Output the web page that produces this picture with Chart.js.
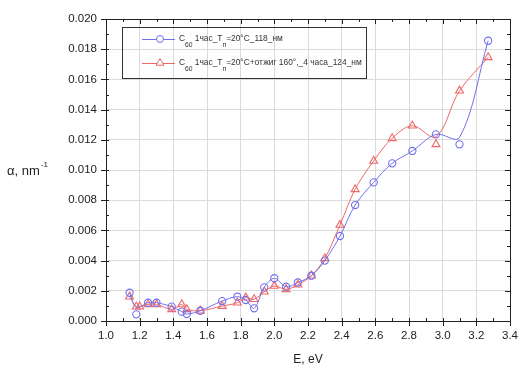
<!DOCTYPE html>
<html>
<head>
<meta charset="utf-8">
<script src="https://cdn.jsdelivr.net/npm/chart.js@4/dist/chart.umd.min.js"></script>
<style>
html,body{margin:0;padding:0;background:#fff;}
#wrap{width:526px;height:369px;position:relative;}
</style>
</head>
<body>
<div id="wrap"><canvas id="c" width="526" height="369"></canvas></div>
<script>
// ---- data ----
const energyBlue = [1.14,1.18,1.25,1.30,1.39,1.45,1.48,1.56,1.69,1.78,1.83,1.88,1.94,2.00,2.07,2.14,2.22,2.30,2.39,2.48,2.59,2.70,2.82,2.96,3.10,3.27];
const alphaBlue  = [0.00187,0.00044,0.00121,0.00121,0.00095,0.00062,0.00046,0.00068,0.00132,0.00161,0.00139,0.00084,0.00223,0.00283,0.00227,0.00255,0.00300,0.00400,0.00563,0.00768,0.00918,0.01044,0.01126,0.01236,0.01170,0.01856];
const curveBlue  = [0.00187,0.00090,0.00121,0.00121,0.00095,0.00062,0.00046,0.00068,0.00132,0.00161,0.00139,0.00084,0.00223,0.00283,0.00227,0.00255,0.00300,0.00400,0.00563,0.00768,0.00918,0.01044,0.01126,0.01236,0.01215,0.01856];

const energyRed = [1.14,1.18,1.20,1.25,1.30,1.39,1.45,1.48,1.56,1.69,1.78,1.83,1.88,1.94,2.00,2.07,2.14,2.22,2.30,2.39,2.48,2.59,2.70,2.82,2.96,3.10,3.27];
const alphaRed  = [0.00161,0.00095,0.00095,0.00110,0.00110,0.00077,0.00110,0.00077,0.00068,0.00099,0.00121,0.00154,0.00144,0.00194,0.00232,0.00210,0.00240,0.00300,0.00415,0.00636,0.00872,0.01060,0.01210,0.01293,0.01170,0.01525,0.01746];
const curveRed  = [0.00161,0.00095,0.00095,0.00110,0.00110,0.00077,0.00110,0.00077,0.00068,0.00099,0.00121,0.00154,0.00144,0.00194,0.00232,0.00210,0.00240,0.00300,0.00415,0.00636,0.00872,0.01060,0.01210,0.01293,0.01220,0.01525,0.01746];

const xMin = 1.0, xMax = 3.4, xStep = 0.2;
const yMin = 0.0, yMax = 0.020, yStep = 0.002;

const legendBlue = [{t:'C'},{t:'60',sub:true},{t:' 1час_T'},{t:'п',sub:true},{t:'=20°C_118_нм'}];
const legendRed  = [{t:'C'},{t:'60',sub:true},{t:' 1час_T'},{t:'п',sub:true},{t:'=20°C+отжиг 160°,_4 часа_124_нм'}];
const xTitle = 'E, eV';
const yTitle = 'α, nm';
const yTitleSup = '-1';

// ---- styles ----
const BLUE = 'rgb(112,112,238)';
const RED  = 'rgb(238,104,104)';
const FONT = '"Liberation Sans", Arial, sans-serif';

function pts(xs, ys){ return xs.map((x,i)=>({x:x,y:ys[i]})); }

function drawRich(ctx, parts, x, y, size){
  let cx = x;
  parts.forEach(p=>{
    const s = p.sub ? size*0.8 : size;
    ctx.font = s + 'px ' + FONT;
    ctx.fillText(p.t, cx, p.sub ? y + size*0.7 : y);
    cx += ctx.measureText(p.t).width;
  });
}

const decor = {
  id:'decor',
  afterDatasetsDraw(chart){
    const ctx = chart.ctx;
    const xs = chart.scales.x, ys = chart.scales.y;
    const a = chart.chartArea;
    ctx.save();
    ctx.strokeStyle = '#222';
    ctx.lineWidth = 1;
    // frame (top & right)
    ctx.beginPath();
    ctx.moveTo(a.left, a.top+0.5); ctx.lineTo(a.right+0.5, a.top+0.5); ctx.lineTo(a.right+0.5, a.bottom);
    ctx.stroke();
    // x ticks
    const nx = Math.round((xMax-xMin)/(xStep/2));
    for(let i=0;i<=nx;i++){
      const v = xMin + i*xStep/2;
      const px = Math.round(xs.getPixelForValue(v))+0.5;
      const major = i%2===0;
      ctx.beginPath();
      if(major){
        ctx.moveTo(px, a.bottom+5); ctx.lineTo(px, a.bottom-3);
        ctx.moveTo(px, a.top); ctx.lineTo(px, a.top+5);
      } else {
        ctx.moveTo(px, a.bottom); ctx.lineTo(px, a.bottom-3);
        ctx.moveTo(px, a.top); ctx.lineTo(px, a.top+3);
      }
      ctx.stroke();
    }
    const ny = Math.round((yMax-yMin)/(yStep/2));
    for(let i=0;i<=ny;i++){
      const v = yMin + i*yStep/2;
      const py = Math.round(ys.getPixelForValue(v))+0.5;
      const major = i%2===0;
      ctx.beginPath();
      if(major){
        ctx.moveTo(a.left-5, py); ctx.lineTo(a.left+3, py);
        ctx.moveTo(a.right, py); ctx.lineTo(a.right-5, py);
      } else {
        ctx.moveTo(a.left, py); ctx.lineTo(a.left+3, py);
        ctx.moveTo(a.right, py); ctx.lineTo(a.right-3, py);
      }
      ctx.stroke();
    }
    // legend box
    const bx = 122.5, by = 27.5, bw = 244, bh = 51;
    ctx.strokeStyle = '#333';
    ctx.strokeRect(bx, by, bw, bh);
    const rows = [{c:BLUE, s:'circle', parts:legendBlue, y:39},{c:RED, s:'triangle', parts:legendRed, y:63}];
    rows.forEach(r=>{
      ctx.strokeStyle = r.c; ctx.lineWidth = 1;
      ctx.beginPath(); ctx.moveTo(142, r.y+0.5); ctx.lineTo(175, r.y+0.5); ctx.stroke();
      ctx.fillStyle = '#fff';
      Chart.helpers.drawPoint(ctx, {pointStyle:r.s, radius: r.s==='circle'?3.5:4.5, borderWidth:1}, 160, r.y);
      ctx.fillStyle = '#333';
      ctx.textBaseline = 'middle';
      ctx.textAlign = 'left';
      drawRich(ctx, r.parts, 179, r.y, 8.4);
    });
    // axis titles
    ctx.fillStyle = '#222';
    ctx.textBaseline = 'middle';
    ctx.textAlign = 'center';
    ctx.font = '12px ' + FONT;
    ctx.fillText(xTitle, 308, 360);
    ctx.textAlign = 'left';
    ctx.font = '13px ' + FONT;
    ctx.fillText(yTitle, 7, 171);
    const w = ctx.measureText(yTitle).width;
    ctx.font = '8px ' + FONT;
    ctx.fillText(yTitleSup, 7+w+1, 165);
    ctx.restore();
  }
};

new Chart(document.getElementById('c'), {
  type:'scatter',
  data:{
    datasets:[
      {data:pts(energyBlue, curveBlue), showLine:true, borderColor:BLUE, borderWidth:1, pointRadius:0, tension:0.35, fill:false},
      {data:pts(energyRed, curveRed), showLine:true, borderColor:RED, borderWidth:1, pointRadius:0, tension:0.35, fill:false},
      {data:pts(energyBlue, alphaBlue), showLine:false, pointStyle:'circle', pointRadius:3.6, borderColor:BLUE, backgroundColor:'rgba(255,255,255,0)', pointBorderWidth:1.1},
      {data:pts(energyRed, alphaRed), showLine:false, pointStyle:'triangle', pointRadius:4.6, borderColor:RED, backgroundColor:'rgba(255,255,255,0)', pointBorderWidth:1.1}
    ]
  },
  options:{
    responsive:false,
    animation:false,
    events:[],
    layout:{padding:{left:0,right:9,top:19,bottom:0}},
    plugins:{legend:{display:false}, tooltip:{enabled:false}},
    scales:{
      x:{
        type:'linear', min:xMin, max:xMax,
        afterFit(s){ s.height = 48; },
        ticks:{stepSize:xStep, padding:8, color:'#222', font:{family:FONT, size:11.5}, callback:v=>Number(v).toFixed(1), maxRotation:0, autoSkip:false},
        grid:{color:'#dadada', lineWidth:1, drawTicks:false},
        border:{display:true, color:'#222', width:1}
      },
      y:{
        type:'linear', min:yMin, max:yMax,
        afterFit(s){ s.width = 106; },
        ticks:{stepSize:yStep, padding:9, color:'#222', font:{family:FONT, size:11.5}, callback:v=>Number(v).toFixed(3), autoSkip:false},
        grid:{color:'#dadada', lineWidth:1, drawTicks:false},
        border:{display:true, color:'#222', width:1}
      }
    }
  },
  plugins:[decor]
});
</script>
</body>
</html>
